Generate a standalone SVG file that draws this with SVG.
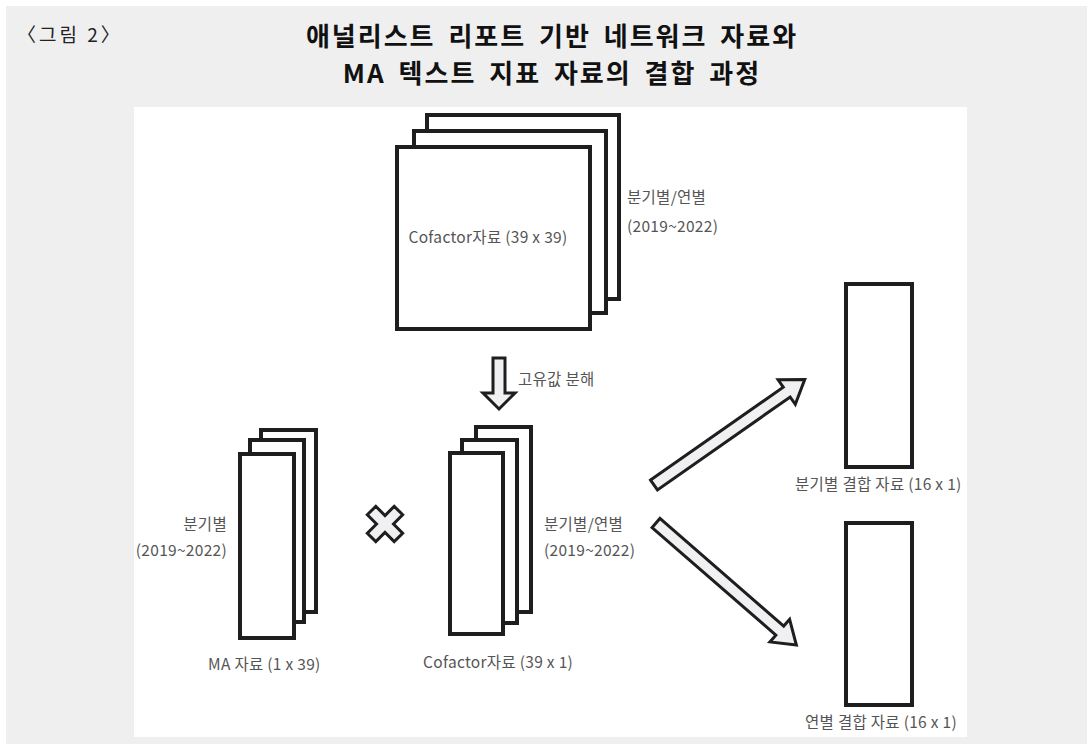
<svg xmlns="http://www.w3.org/2000/svg" width="1087" height="744" viewBox="0 0 1087 744">
<style>
.box{fill:#fff;stroke:#1e1e1e;stroke-width:4}
.arr{fill:#f0f0f3;stroke:#1e1e1e;stroke-width:3;stroke-linejoin:miter}
.lbl{font-family:"Noto Sans CJK KR","Noto Sans",sans-serif;font-size:15.5px;letter-spacing:0.3px;fill:#555}
.ttl{font-family:"Noto Sans CJK KR","Noto Sans",sans-serif;font-size:26px;font-weight:bold;fill:#111;text-anchor:middle;letter-spacing:2px;word-spacing:5px}
</style>
<rect x="0" y="0" width="1087" height="744" fill="#fff"/>
<rect x="6" y="6" width="1081" height="738" fill="#efefef"/>
<rect x="134" y="107" width="833" height="630" fill="#fff"/>
<g id="title">
<text x="17" y="42" style="font-family:'Noto Sans CJK KR',sans-serif;font-size:19px;letter-spacing:3px;fill:#222">〈그림 2〉</text>
<text class="ttl" x="552" y="46">애널리스트 리포트 기반 네트워크 자료와</text>
<text class="ttl" x="552" y="83">MA 텍스트 지표 자료의 결합 과정</text>
</g>
<g id="cofactor-matrix">
<rect class="box" x="427" y="115" width="192" height="184"/>
<rect class="box" x="414" y="131" width="192" height="182"/>
<rect class="box" x="397" y="147" width="193" height="182"/>
<text class="lbl" x="488" y="243" text-anchor="middle">Cofactor자료 (39 x 39)</text>
<text class="lbl" x="627" y="203">분기별/연별</text>
<text class="lbl" x="627" y="232">(2019~2022)</text>
</g>
<g id="ma-data">
<rect class="box" x="261" y="430" width="55" height="182"/>
<rect class="box" x="250" y="440" width="54" height="182"/>
<rect class="box" x="240" y="454" width="54" height="184"/>
<text class="lbl" x="227" y="530" text-anchor="end">분기별</text>
<text class="lbl" x="227" y="556" text-anchor="end">(2019~2022)</text>
<text class="lbl" x="208" y="670">MA 자료 (1 x 39)</text>
</g>
<g id="cofactor-vector">
<rect class="box" x="476" y="427" width="55" height="185"/>
<rect class="box" x="462" y="440" width="55" height="183"/>
<rect class="box" x="450" y="453" width="53" height="181"/>
<text class="lbl" x="544" y="530">분기별/연별</text>
<text class="lbl" x="544" y="556">(2019~2022)</text>
<text class="lbl" x="423" y="668">Cofactor자료 (39 x 1)</text>
</g>
<g id="quarterly-result">
<rect class="box" x="846" y="284" width="66" height="183"/>
<text class="lbl" x="795" y="490">분기별 결합 자료 (16 x 1)</text>
</g>
<g id="annual-result">
<rect class="box" x="846" y="523" width="66" height="182"/>
<text class="lbl" x="805" y="728">연별 결합 자료 (16 x 1)</text>
</g>
<g id="multiply">
<polygon class="arr" transform="translate(385,524) rotate(45)" points="-6,-19 6,-19 6,-6 19,-6 19,6 6,6 6,19 -6,19 -6,6 -19,6 -19,-6 -6,-6"/>
</g>
<g id="connectors">
<polygon class="arr" points="493,358 505,358 505,393 515,393 499,409 483,393 493,393"/>
<text class="lbl" x="518" y="385">고유값 분해</text>
<polygon class="arr" transform="translate(654,485) rotate(-35)" points="0,-6 162,-6 162,-15 184,0 162,15 162,6 0,6"/>
<polygon class="arr" transform="translate(656,523) rotate(41)" points="0,-6 164,-6 164,-15 186,0 164,15 164,6 0,6"/>
</g>
</svg>
